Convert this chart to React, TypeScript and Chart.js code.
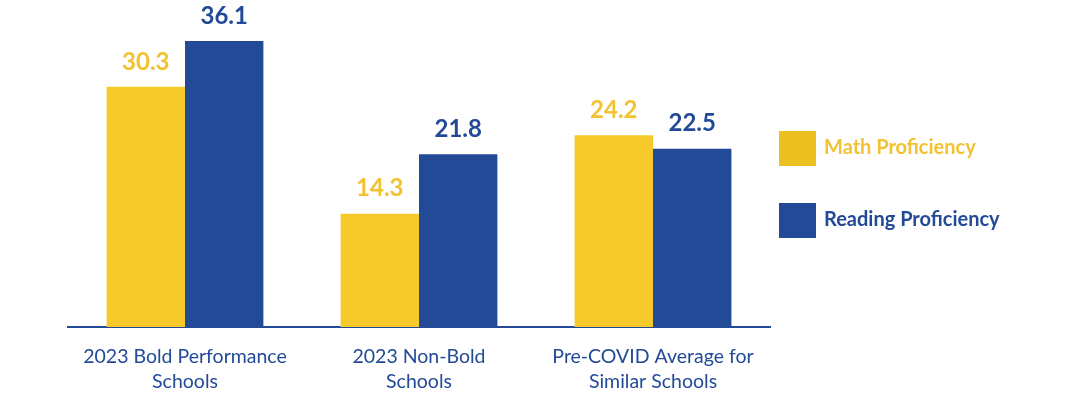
import React, { useEffect, useRef } from "react";
import { Chart, registerables } from "chart.js";

Chart.register(...registerables);

const categories: string[][] = [
  ["2023 Bold Performance", "Schools"],
  ["2023 Non-Bold", "Schools"],
  ["Pre-COVID Average for", "Similar Schools"],
];
const seriesNames = ["Math Proficiency", "Reading Proficiency"];
const mathValues = [30.3, 14.3, 24.2];
const readingValues = [36.1, 21.8, 22.5];

const YELLOW = "#F7CA2B";
const YELLOW_TEXT = "#F2C230";
const YELLOW_LEGEND = "#EDC022";
const BLUE = "#224A97";
const FONT = "Lato, 'Noto Sans', sans-serif";

const valueLabelPlugin = {
  id: "valueLabels",
  afterDatasetsDraw(chart: any) {
    const ctx = chart.ctx;
    ctx.save();
    ctx.textAlign = "center";
    ctx.textBaseline = "bottom";
    ctx.font = `bold 24px ${FONT}`;
    chart.data.datasets.forEach((ds: any, di: number) => {
      const meta = chart.getDatasetMeta(di);
      meta.data.forEach((bar: any, i: number) => {
        ctx.fillStyle = di === 0 ? YELLOW_TEXT : BLUE;
        ctx.fillText(String(ds.data[i].toFixed(1)), bar.x, bar.y - 13);
      });
    });
    ctx.restore();
  },
};

const legendPlugin = {
  id: "customLegend",
  afterDraw(chart: any) {
    const ctx = chart.ctx;
    const area = chart.chartArea;
    ctx.save();
    const x0 = 779;
    const tops = [131, 203];
    const colors = [YELLOW_LEGEND, BLUE];
    const textColors = [YELLOW_TEXT, BLUE];
    ctx.font = `bold 20px ${FONT}`;
    ctx.textBaseline = "middle";
    ctx.textAlign = "left";
    chart.data.datasets.forEach((ds: any, i: number) => {
      ctx.fillStyle = colors[i];
      ctx.fillRect(x0, tops[i], 37, 35);
      ctx.fillStyle = textColors[i];
      ctx.fillText(ds.label, x0 + 45, tops[i] + 17);
    });
    ctx.restore();
  },
};

export default function App() {
  const ref = useRef<HTMLCanvasElement | null>(null);
  useEffect(() => {
    if (!ref.current) return;
    const chart = new Chart(ref.current, {
      type: "bar",
      data: {
        labels: categories,
        datasets: [
          { label: seriesNames[0], data: mathValues, backgroundColor: YELLOW, borderWidth: 0 },
          { label: seriesNames[1], data: readingValues, backgroundColor: BLUE, borderWidth: 0 },
        ],
      },
      options: {
        animation: false,
        responsive: false,
        devicePixelRatio: 1,
        layout: { padding: { left: 68, right: 306, top: 10, bottom: 0 } },
        datasets: { bar: { barPercentage: 1, categoryPercentage: 0.67 } },
        plugins: { legend: { display: false }, tooltip: { enabled: false } },
        scales: {
          y: { display: false, min: 0, max: 40 },
          x: {
            grid: { display: false, drawTicks: false },
            border: { display: true, color: BLUE, width: 2 },
            ticks: {
              color: BLUE,
              font: { family: FONT, size: 19.5, lineHeight: 1.3 },
              padding: 17,
              maxRotation: 0,
              autoSkip: false,
            },
            afterFit: (scale: any) => {
              scale.height = 79;
            },
          },
        },
      },
      plugins: [valueLabelPlugin, legendPlugin],
    });
    return () => chart.destroy();
  }, []);
  return (
    <div style={{ position: "fixed", left: 0, top: 0, width: 1076, height: 406, background: "#fff" }}>
      <canvas ref={ref} width={1076} height={406} style={{ width: 1076, height: 406 }} />
    </div>
  );
}
